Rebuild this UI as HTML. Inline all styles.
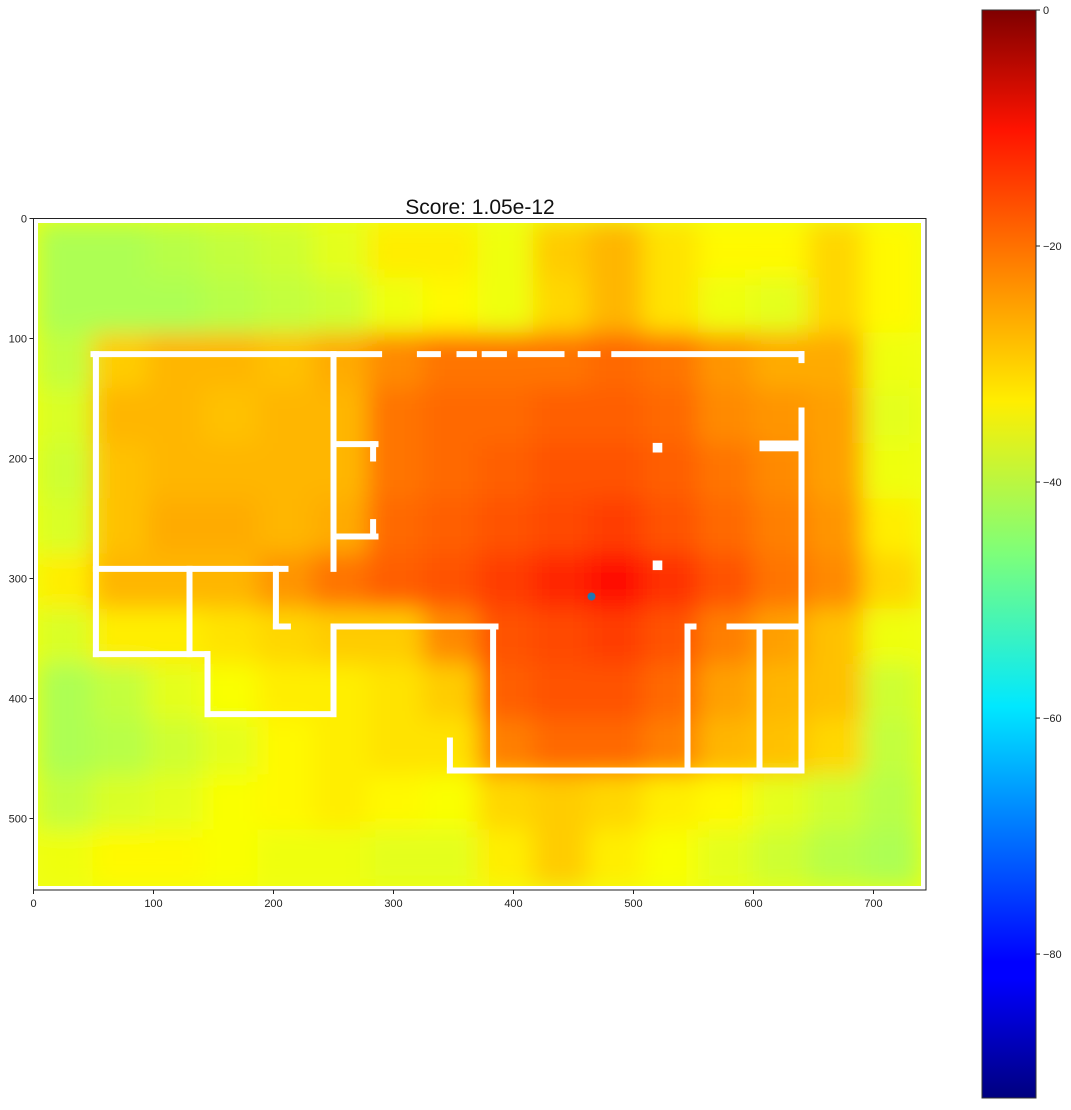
<!DOCTYPE html>
<html><head><meta charset="utf-8"><style>
body{margin:0;background:#fff;width:1071px;height:1105px;overflow:hidden;font-family:"Liberation Sans",sans-serif}
</style></head><body>
<svg id="s" width="1071" height="1105" xmlns="http://www.w3.org/2000/svg">
<defs>
<filter id="bl" x="-5%" y="-5%" width="110%" height="110%"><feGaussianBlur stdDeviation="12"/></filter>
<clipPath id="cp"><rect x="38" y="223" width="883" height="663"/></clipPath>
<linearGradient id="jet" x1="0" y1="1" x2="0" y2="0">
<stop offset="0" stop-color="#00007f"/><stop offset="0.11" stop-color="#0000ff"/><stop offset="0.125" stop-color="#0000ff"/>
<stop offset="0.36" stop-color="#00e8ff"/><stop offset="0.5" stop-color="#7dff7a"/><stop offset="0.64" stop-color="#ffee00"/>
<stop offset="0.89" stop-color="#ff1300"/><stop offset="1" stop-color="#7f0000"/></linearGradient>
</defs>
<g id="heat" clip-path="url(#cp)"></g>
<g id="walls"></g>
<rect x="33.5" y="218.5" width="892.5" height="671.5" fill="none" stroke="#222" stroke-width="1"/>
<g id="ticks" font-size="11" fill="#222"></g>
<text x="480" y="214" font-size="21" text-anchor="middle" fill="#111">Score: 1.05e-12</text>
<rect x="982" y="10" width="54" height="1088" fill="url(#jet)" stroke="#333" stroke-width="1"/>
<g id="cbt" font-size="11" fill="#222"></g>
</svg>
<script>
const xTicks=[0,100,200,300,400,500,600,700];
const yTicks=[0,100,200,300,400,500];
const cbTicks=[0,-20,-40,-60,-80];
const vmin=-92.2, vmax=0;
const gridX0=4, gridY0=4, gridW=734, gridH=552;
const heatRows=[
[-42,-42,-41,-40,-39,-37,-33,-33,-36,-30,-28,-32,-34,-34,-31,-34],
[-42,-42,-42,-41,-40,-39,-36,-34,-36,-31,-28,-32,-36,-37,-31,-34],
[-40,-30,-28,-28,-29,-27,-24,-22,-22,-22,-21,-22,-25,-27,-27,-36],
[-38,-28,-28,-29,-28,-28,-22,-21,-21,-20,-20,-21,-24,-25,-26,-37],
[-39,-29,-28,-28,-28,-28,-22,-21,-20,-19,-19,-20,-22,-24,-26,-36],
[-38,-29,-27,-27,-28,-27,-21,-20,-19,-18,-17,-19,-21,-23,-25,-33],
[-33,-28,-28,-28,-25,-22,-20,-19,-17,-15,-13,-16,-19,-22,-24,-31],
[-38,-33,-33,-32,-31,-30,-30,-24,-19,-18,-17,-19,-23,-26,-29,-36],
[-42,-40,-37,-35,-33,-33,-32,-30,-20,-19,-19,-21,-26,-28,-29,-39],
[-42,-41,-39,-37,-34,-33,-32,-32,-23,-21,-21,-23,-28,-29,-31,-40],
[-40,-38,-37,-35,-34,-33,-34,-35,-31,-30,-31,-33,-34,-37,-39,-41],
[-36,-34,-34,-35,-36,-36,-37,-37,-33,-30,-33,-35,-37,-39,-41,-42]];
// walls as [x1,y1,x2,y2] in data units
const wallSegs=[
[50,113,288,113],[322,113,337,113],[355,113,367,113],[376,113,392,113],[406,113,440,113],[456,113,470,113],[484,113,640,113],
[52,113,52,363],[250,113,250,292],[250,340,250,413],
[250,188,285,188],[283,188,283,200],[250,265,285,265],[283,253,283,265],
[52,292,210,292],[130,292,130,363],[202,292,202,340],[202,340,212,340],
[52,363,145,363],[145,363,145,413],[145,413,250,413],
[250,340,385,340],[383,340,383,460],[347,460,640,460],[347,435,347,460],
[545,340,545,460],[545,340,550,340],[580,340,640,340],[605,340,605,460],[640,160,640,460],[640,113,640,118]];
const wallBlocks=[[516,187,8,8],[516,285,8,8],[605,185,33,9]];
const source=[465,315];
const X=v=>33.5+1.2*v, Y=v=>218.5+1.2*v;
const NS='http://www.w3.org/2000/svg';
function mk(t,a,p){const e=document.createElementNS(NS,t);for(const k in a)e.setAttribute(k,a[k]);p.appendChild(e);return e;}
function jet(v){const t=Math.max(0,Math.min(1,(v-vmin)/(vmax-vmin)));const c=x=>Math.round(255*Math.max(0,Math.min(1,1.5-Math.abs(4*t-x))));return `rgb(${c(3)},${c(2)},${c(1)})`;}
const heat=document.getElementById('heat');
mk('rect',{x:38,y:223,width:883,height:663,fill:jet(-36)},heat);
const hb=mk('g',{filter:'url(#bl)'},heat);
const nr=heatRows.length,nc=heatRows[0].length,cw=gridW/nc,ch=gridH/nr;
heatRows.forEach((row,i)=>row.forEach((v,j)=>{
 const r=mk('rect',{x:X(gridX0+j*cw)-1,y:Y(gridY0+i*ch)-1,width:cw*1.2+2,height:ch*1.2+2,fill:jet(v)},hb);
 
 
}));
const walls=document.getElementById('walls');
wallSegs.forEach(s=>{
 const l=mk('line',{x1:X(s[0]),y1:Y(s[1]),x2:X(s[2]),y2:Y(s[3]),stroke:'#fff','stroke-width':6,'stroke-linecap':'square'},walls);
 
 
});
wallBlocks.forEach(b=>{
 const r=mk('rect',{x:X(b[0]),y:Y(b[1]),width:b[2]*1.2,height:b[3]*1.2,fill:'#fff'},walls);
 
 
});
const sd=mk('circle',{cx:X(source[0]),cy:Y(source[1]),r:4,fill:'#1f77b4'},walls);


const tk=document.getElementById('ticks');
xTicks.forEach(v=>{
 mk('line',{x1:X(v),y1:890,x2:X(v),y2:894,stroke:'#222'},tk);
 const t=mk('text',{x:X(v),y:907,'text-anchor':'middle'},tk);t.textContent=v;
 
 
});
yTicks.forEach(v=>{
 mk('line',{x1:29.5,y1:Y(v),x2:33.5,y2:Y(v),stroke:'#222'},tk);
 const t=mk('text',{x:27,y:Y(v)+4,'text-anchor':'end'},tk);t.textContent=v;
 
 
});
const cb=document.getElementById('cbt');
const CY=v=>10+(vmax-v)/(vmax-vmin)*1088;
cbTicks.forEach(v=>{
 mk('line',{x1:1036,y1:CY(v),x2:1040,y2:CY(v),stroke:'#222'},cb);
 const t=mk('text',{x:1043,y:CY(v)+4},cb);t.textContent=v===0?'0':'\u2212'+Math.abs(v);
 
 
});
</script>
</body></html>
